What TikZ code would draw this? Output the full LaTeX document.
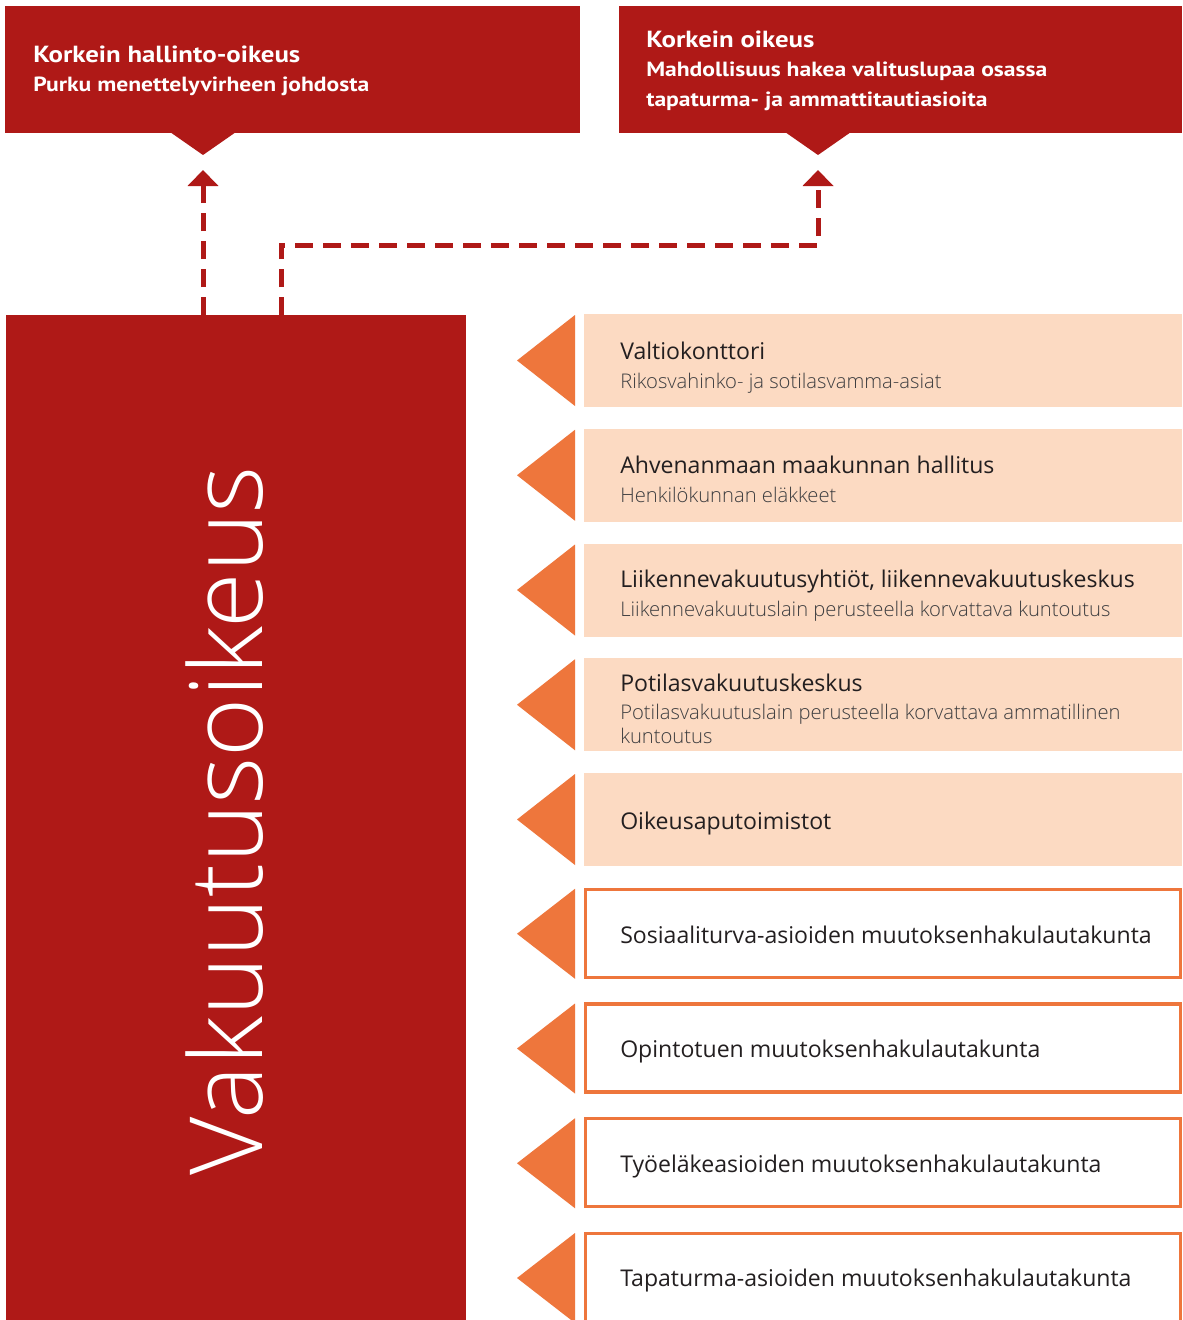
\documentclass[tikz,border=0pt]{standalone}
\usepackage{fontspec}
\usetikzlibrary{arrows.meta}
\setmainfont{Open Sans}
\newfontfamily\ptsans{PT Sans}[FakeStretch=1.15]
\IfFontExistsTF{Open Sans Light}{\newfontfamily\lightfont{Open Sans Light}}{\newfontfamily\lightfont{Open Sans}}
\definecolor{vored}{RGB}{175,25,23}
\definecolor{voorange}{RGB}{238,118,60}
\definecolor{vopeach}{RGB}{252,218,194}
\definecolor{votext}{RGB}{35,31,32}
\definecolor{vosub}{RGB}{62,62,64}
\tikzset{
  courtbox/.style={fill=vored, draw=none, inner sep=0pt, outer sep=0pt, anchor=north west, rectangle},
  peachbox/.style={fill=vopeach, draw=none, inner sep=0pt, outer sep=0pt, anchor=north west, rectangle,
    minimum width={598*0.75pt}, minimum height={93*0.75pt}},
  outbox/.style={draw=voorange, fill=white, line width=2.4pt, inner sep=0pt, outer sep=0pt, anchor=north west, rectangle,
    minimum width={595*0.75pt}, minimum height={88*0.75pt}},
  courttitle/.style={anchor=base west, inner sep=0pt, text=white, font=\ptsans\bfseries\fontsize{17.5}{20}\selectfont},
  courtsub/.style={anchor=base west, inner sep=0pt, text=white, font=\ptsans\bfseries\fontsize{15.4}{18}\selectfont},
  boxtitle/.style={anchor=base west, inner sep=0pt, text=votext, font=\fontsize{17.3}{20}\selectfont},
  boxsub/.style={anchor=base west, inner sep=0pt, text=vosub, font=\lightfont\fontsize{15.15}{18}\selectfont},
  dasharrow/.style={draw=vored, line width=3.75pt, dash pattern=on 13.5pt off 7.5pt,
    -{Triangle[width=22.5pt, length=12pt]}},
}
\begin{document}
\begin{tikzpicture}[x=0.75pt, y=-0.75pt]
\useasboundingbox (0,0) rectangle (1182,1320);
\clip (0,0) rectangle (1182,1320);
\fill[white] (0,0) rectangle (1182,1320);

% top courts
\node[courtbox, minimum width={575*0.75pt}, minimum height={127*0.75pt}] (kho) at (5,6) {};
\fill[vored] (170,132) -- (203,155) -- (236,132) -- cycle;
\node[courttitle] (khot) at (33,63) {Korkein hallinto-oikeus};
\node[courtsub] (khos) at (33,92) {Purku menettelyvirheen johdosta};

\node[courtbox, minimum width={563*0.75pt}, minimum height={127*0.75pt}] (ko) at (619,6) {};
\fill[vored] (785,132) -- (818,155) -- (851,132) -- cycle;
\node[courttitle] (kot) at (646,48) {Korkein oikeus};
\node[courtsub] (kos1) at (646,77) {Mahdollisuus hakea valituslupaa osassa};
\node[courtsub] (kos2) at (646,106) {tapaturma- ja ammattitautiasioita};

% main box
\node[courtbox, minimum width={460*0.75pt}, minimum height={1010*0.75pt}] (vo) at (6,315) {};
\node[rotate=90, anchor=base west, inner sep=0pt, text=white, font=\lightfont\fontsize{75.8}{80}\selectfont] (vot) at (262,1176) {Vakuutusoikeus};

% dashed arrows
\coordinate (khoarr) at (203,170);
\coordinate (koarr) at (818,170);
\coordinate (bend) at (281,245);
\draw[dasharrow] (vo.north -| khoarr) -- (khoarr);
\draw[dasharrow] (vo.north -| bend) -- (bend) -- (bend -| koarr) -- (koarr);

% filled boxes
\foreach \i in {0,...,4}{
  \pgfmathsetmacro\t{314+114.75*\i}
  \node[peachbox] (p\i) at (584,\t) {};
  \fill[voorange] (575,\t+1) -- (517,\t+46.5) -- (575,\t+92) -- cycle;
}
% outlined boxes
\foreach \i in {5,...,8}{
  \pgfmathsetmacro\t{314+114.75*\i}
  \node[outbox] (p\i) at (585.5,\t+1.5) {};
  \fill[voorange] (575,\t+1) -- (517,\t+46) -- (575,\t+91) -- cycle;
}

% texts
\node[boxtitle] (t0) at (620,359) {Valtiokonttori};
\node[boxsub] (s0) at (620,388) {Rikosvahinko- ja sotilasvamma-asiat};
\node[boxtitle] (t1) at (620,473) {Ahvenanmaan maakunnan hallitus};
\node[boxsub] (s1) at (620,502) {Henkilökunnan eläkkeet};
\node[boxtitle] (t2) at (620,587) {Liikennevakuutusyhtiöt, liikennevakuutuskeskus};
\node[boxsub] (s2) at (620,616) {Liikennevakuutuslain perusteella korvattava kuntoutus};
\node[boxtitle] (t3) at (620,691) {Potilasvakuutuskeskus};
\node[boxsub] (s3a) at (620,719) {Potilasvakuutuslain perusteella korvattava ammatillinen};
\node[boxsub] (s3b) at (620,743) {kuntoutus};
\node[boxtitle] (t4) at (620,829) {Oikeusaputoimistot};
\node[boxtitle] (t5) at (620,943) {Sosiaaliturva-asioiden muutoksenhakulautakunta};
\node[boxtitle] (t6) at (620,1057) {Opintotuen muutoksenhakulautakunta};
\node[boxtitle] (t7) at (620,1172) {Työeläkeasioiden muutoksenhakulautakunta};
\node[boxtitle] (t8) at (620,1286) {Tapaturma-asioiden muutoksenhakulautakunta};
\end{tikzpicture}
\end{document}
